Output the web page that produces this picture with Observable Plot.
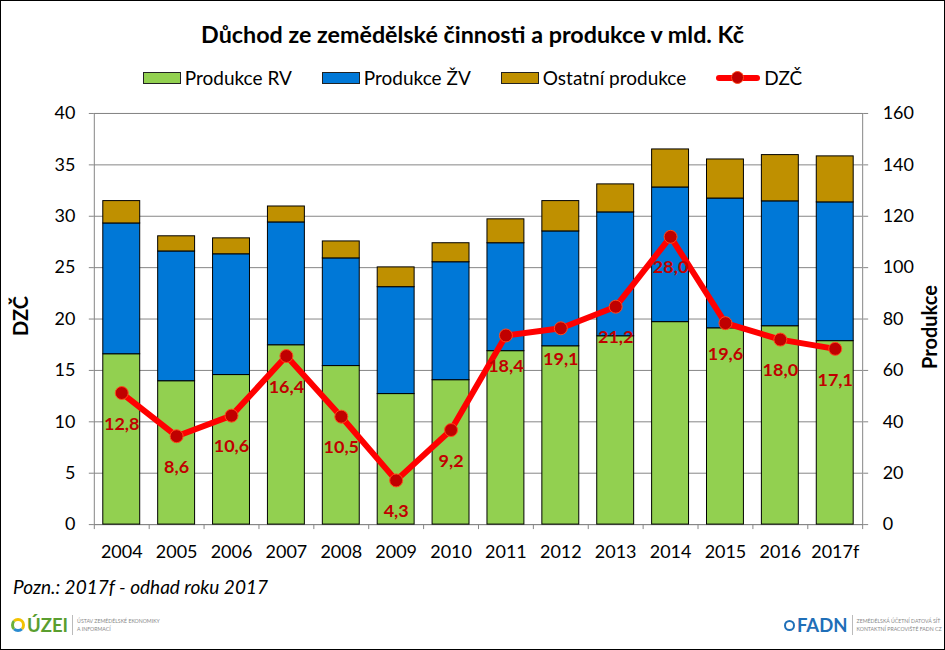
<!DOCTYPE html>
<html>
<head>
<meta charset="utf-8">
<script src="https://cdn.jsdelivr.net/npm/d3@7"></script>
<script src="https://cdn.jsdelivr.net/npm/@observablehq/plot@0.6"></script>
<style>
  html, body { margin: 0; padding: 0; background: #fff; }
  #wrap { position: relative; width: 945px; height: 650px; box-sizing: border-box; border: 1px solid #000; font-family: Lato, "Open Sans", sans-serif; overflow: hidden; }
  .abs { position: absolute; }
  #title { left: 0; width: 943px; top: 18px; text-align: center; font-weight: bold; font-size: 23.3px; line-height: 30px; }
  #legend { left: 0; width: 943px; top: 66px; display: flex; justify-content: center; align-items: center; font-size: 19px; line-height: 22px; }
  .item { display: flex; align-items: center; margin: 0 15px; }
  .sw { width: 38px; height: 12px; border: 1px solid #222; box-sizing: border-box; margin-right: 4px; }
  .ln { position: relative; width: 44px; height: 14px; margin-right: 4px; }
  .ln .bar { position: absolute; left: 0; right: 0; top: 4px; height: 6px; background: #ff0000; border-radius: 3px; }
  .ln .dot { position: absolute; left: 15px; top: 0; width: 13px; height: 13px; border-radius: 50%; background: #c00000; box-sizing: border-box; border: 1px solid #ff4a1c; }
  .ytitle { font-weight: bold; font-size: 20px; white-space: nowrap; transform: translate(-50%, -50%) rotate(-90deg); }
  #note { left: 12px; top: 574px; font-style: italic; font-size: 19px; line-height: 24px; }
  .logo { display: flex; align-items: center; white-space: nowrap; }
  .small { font-size: 5.2px; line-height: 8px; color: #8a8a8a; white-space: nowrap; }
  .sep { width: 1px; height: 20px; background: #bbb; margin: 0 4px; }
</style>
</head>
<body>
<div id="wrap">
  <div id="title" class="abs">Důchod ze zemědělské činnosti a produkce v mld. Kč</div>
  <div id="legend" class="abs"></div>
  <div id="chart" class="abs" style="left:0;top:100px;"></div>
  <div class="abs ytitle" style="left:19px;top:315px;">DZČ</div>
  <div class="abs ytitle" style="left:928px;top:326px;">Produkce</div>
  <div id="note" class="abs">Pozn.: 2017f - odhad roku 2017</div>
  <div class="abs logo" style="left:10px;top:613px;">
    <div style="width:8px;height:8px;border-radius:50%;border:3px solid #f2c200;border-bottom-color:#2a8bd0;border-left-color:#6ab03a;"></div>
    <div style="font-weight:bold;font-size:18.5px;color:#5a9e2f;margin-left:2px;line-height:22px;">ÚZEI</div>
    <div class="sep"></div>
    <div class="small">ÚSTAV ZEMĚDĚLSKÉ EKONOMIKY<br>A INFORMACÍ</div>
  </div>
  <div class="abs logo" style="left:783px;top:613px;">
    <div style="width:7px;height:7px;border-radius:50%;border:2.5px solid #1f6fb8;"></div>
    <div style="font-weight:bold;font-size:18.5px;color:#1f6fb8;margin-left:2px;line-height:22px;">FADN</div>
    <div class="sep"></div>
    <div class="small">ZEMĚDĚLSKÁ ÚČETNÍ DATOVÁ SÍŤ<br>KONTAKTNÍ PRACOVIŠTĚ FADN CZ</div>
  </div>
</div>
<script>
const years = ["2004","2005","2006","2007","2008","2009","2010","2011","2012","2013","2014","2015","2016","2017f"];
const produkceRV = [66.3,55.8,58.2,69.8,61.7,50.8,56.2,67.5,69.4,73.3,78.8,76.4,77.2,71.4];
const produkceZV = [50.9,50.5,47.0,47.8,41.9,41.6,45.9,42.0,44.7,48.2,52.4,50.5,48.6,54.0];
const ostatni    = [8.7,5.9,6.2,6.2,6.6,7.7,7.4,9.3,11.8,10.9,14.8,15.2,18.0,17.9];
const dzc        = [12.8,8.6,10.6,16.4,10.5,4.3,9.2,18.4,19.1,21.2,28.0,19.6,18.0,17.1];
const seriesNames = ["Produkce RV","Produkce ŽV","Ostatní produkce"];
const seriesColors = ["#92d050","#0078d7","#bf9000"];
const leftTicks = [0,5,10,15,20,25,30,35,40];
const rightTicks = [0,20,40,60,80,100,120,140,160];
const lineName = "DZČ";

const ratio = rightTicks[rightTicks.length-1] / leftTicks[leftTicks.length-1];
const seriesValues = [produkceRV, produkceZV, ostatni];
const bars = [];
years.forEach((y, i) => seriesNames.forEach((s, k) => bars.push({year: y, series: s, value: seriesValues[k][i]})));
const pts = years.map((y, i) => ({year: y, dzc: dzc[i]}));

// legend
const leg = document.getElementById("legend");
seriesNames.forEach((s, k) => {
  const it = document.createElement("div"); it.className = "item";
  it.innerHTML = `<div class="sw" style="background:${seriesColors[k]}"></div><span>${s}</span>`;
  leg.appendChild(it);
});
const li = document.createElement("div"); li.className = "item";
li.innerHTML = `<div class="ln"><div class="bar"></div><div class="dot"></div></div><span>${lineName}</span>`;
leg.appendChild(li);

const W = 945, H = 470, mL = 93, mR = 82, mT = 12, mB = 46;
const step = (W - mL - mR) / years.length;
const grey = "#868686";

const chart = Plot.plot({
  width: W, height: H,
  marginLeft: mL, marginRight: mR, marginTop: mT, marginBottom: mB,
  style: {fontFamily: "Lato, 'Open Sans', sans-serif", fontSize: "18px", background: "transparent", overflow: "visible"},
  x: {domain: years, paddingInner: 0.33, paddingOuter: 0.165, axis: null, label: null},
  y: {domain: [0, rightTicks[rightTicks.length-1]], axis: null, label: null},
  color: {domain: seriesNames, range: seriesColors},
  marks: [
    Plot.gridY(rightTicks, {stroke: grey, strokeOpacity: 1, strokeWidth: 1}),
    Plot.frame({stroke: grey}),
    Plot.barY(bars, {x: "year", y: "value", fill: "series", stroke: "#000", strokeWidth: 1, order: null}),
    Plot.axisY(leftTicks.map(t => t * ratio), {anchor: "left", label: null, tickFormat: d => String(d / ratio), tickSize: 5, tickPadding: 14, stroke: grey, fill: "#000", fontSize: 18}),
    Plot.axisY(rightTicks, {anchor: "right", label: null, tickSize: 5, tickPadding: 15, stroke: grey, fill: "#000", fontSize: 18}),
    Plot.axisX({label: null, tickSize: 0, tickPadding: 21, fill: "#000", fontSize: 18}),
    Plot.axisX(years, {label: null, tickSize: 5, tickFormat: () => "", stroke: grey, dx: step / 2}),
    Plot.axisX([years[0]], {label: null, tickSize: 5, tickFormat: () => "", stroke: grey, dx: -step / 2}),
    Plot.line(pts, {x: "year", y: d => d.dzc * ratio, stroke: "#ff0000", strokeWidth: 6, strokeLinejoin: "round"}),
    Plot.dot(pts, {x: "year", y: d => d.dzc * ratio, r: 6.5, fill: "#c00000", stroke: "#ff4a1c", strokeWidth: 1}),
    Plot.text(pts, {x: "year", y: d => d.dzc * ratio, text: d => d.dzc.toFixed(1).replace(".", ","), dy: 31, fill: "#c00000", fontWeight: "bold", fontSize: 18})
  ]
});
document.getElementById("chart").appendChild(chart);
</script>
</body>
</html>
